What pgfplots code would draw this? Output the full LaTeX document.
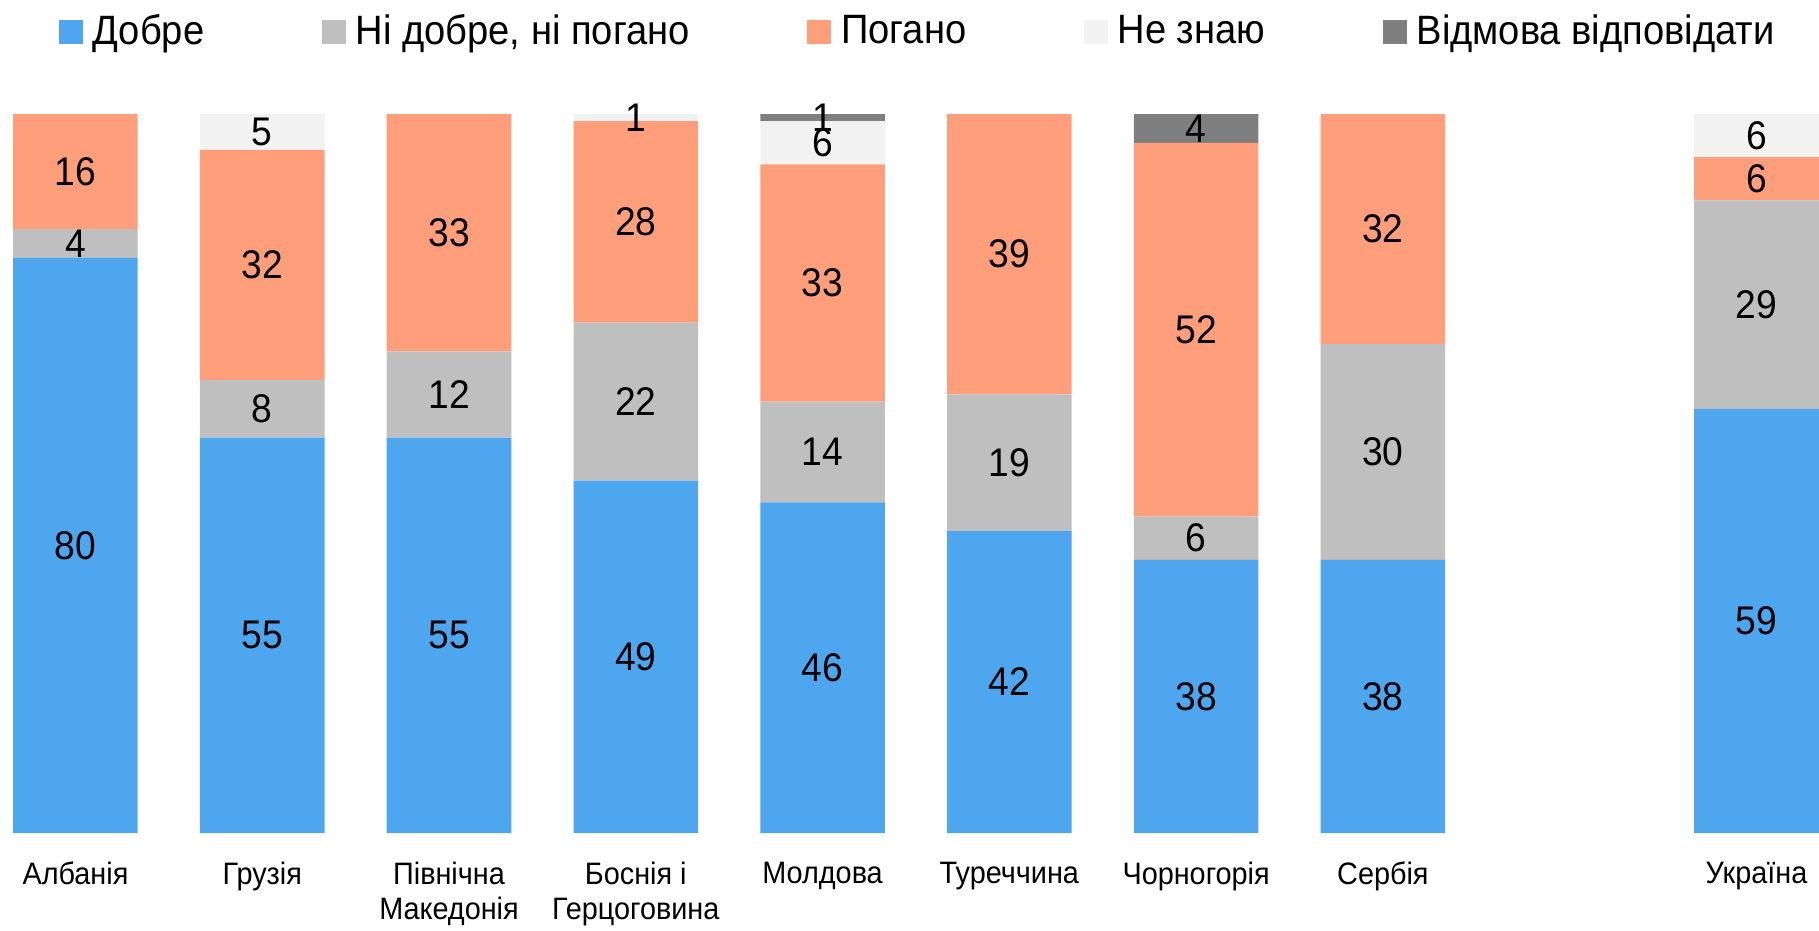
\documentclass[border=0pt]{standalone}
\usepackage{fontspec}
\setmainfont{Liberation Sans}[FakeStretch=0.93]
\usepackage{pgfplots}
\pgfplotsset{compat=1.18}
\definecolor{cgood}{RGB}{77,166,238}
\definecolor{cmid}{RGB}{191,191,191}
\definecolor{cbad}{RGB}{255,158,122}
\definecolor{cdk}{RGB}{242,242,242}
\definecolor{cref}{RGB}{127,127,127}

\begin{document}
\begin{tikzpicture}
\pgfplotsset{panel/.style={scale only axis, width=545.7pt, height=215.7pt,
  xmin=-0.404, xmax=9.335, ymin=0, ymax=100, clip=false}}
\begin{axis}[panel, name=ax,
  ybar stacked, bar width=0.667,
  axis line style={draw=none}, major tick style={draw=none},
  ytick=\empty, xtick={0,1,2,3,4,5,6,7,9},
  xticklabels={Албанія,Грузія,{Північна\\Македонія},{Боснія і\\Герцоговина},Молдова,Туреччина,Чорногорія,Сербія,Україна},
  xticklabel style={align=center, font=\fontsize{9.3}{10.5}\selectfont,
    anchor=north, inner sep=0pt, yshift=-8.4pt},
  legend columns=5,
  legend image code/.code={\fill[#1] (0pt,-3.6pt) rectangle (7.2pt,3.6pt);},
  legend style={at={(axis description cs:0,1)}, anchor=west,
    xshift=17.4pt, yshift=24.5pt, draw=none, fill=none, inner sep=0pt,
    font=\fontsize{12.3}{14}\selectfont, nodes={inner sep=0pt},
    /tikz/every odd column/.append style={column sep=3.0pt},
    /tikz/every even column/.append style={column sep=35.2pt}},
]
\addplot[fill=cgood, draw=none] coordinates {(0,80) (1,55) (2,55) (3,49) (4,46) (5,42) (6,38) (7,38) (9,59)};
\addplot[fill=cmid, draw=none] coordinates {(0,4) (1,8) (2,12) (3,22) (4,14) (5,19) (6,6) (7,30) (9,29)};
\addplot[fill=cbad, draw=none] coordinates {(0,16) (1,32) (2,33) (3,28) (4,33) (5,39) (6,52) (7,32) (9,6)};
\addplot[fill=cdk, draw=none] coordinates {(0,0) (1,5) (2,0) (3,1) (4,6) (5,0) (6,0) (7,0) (9,6)};
\addplot[fill=cref, draw=none] coordinates {(0,0) (1,0) (2,0) (3,0) (4,1) (5,0) (6,4) (7,0) (9,0)};
\legend{Добре, {Ні добре, ні погано}, Погано, Не знаю, Відмова відповідати}
\end{axis}

% value labels, centred in each segment
\begin{axis}[panel, hide axis]
\addplot[draw=none, mark=none, nodes near coords, point meta=explicit symbolic,
  every node near coord/.append style={anchor=center, inner sep=0pt,
    font=\fontsize{12}{14}\selectfont}]
  coordinates {
    (0,40)[80] (0,82)[4] (0,92)[16]
    (1,27.5)[55] (1,59)[8] (1,79)[32] (1,97.5)[5]
    (2,27.5)[55] (2,61)[12] (2,83.5)[33]
    (3,24.5)[49] (3,60)[22] (3,85)[28] (3,99.5)[1]
    (4,23)[46] (4,53)[14] (4,76.5)[33] (4,96)[6] (4,99.5)[1]
    (5,21)[42] (5,51.5)[19] (5,80.5)[39]
    (6,19)[38] (6,41)[6] (6,70)[52] (6,98)[4]
    (7,19)[38] (7,53)[30] (7,84)[32]
    (9,29.5)[59] (9,73.5)[29] (9,91)[6] (9,97)[6]
  };
\end{axis}
\pgfresetboundingbox
\path[use as bounding box] ([yshift=-29.1pt]ax.south west) rectangle ([yshift=34.2pt]ax.north east);
\end{tikzpicture}
\end{document}
